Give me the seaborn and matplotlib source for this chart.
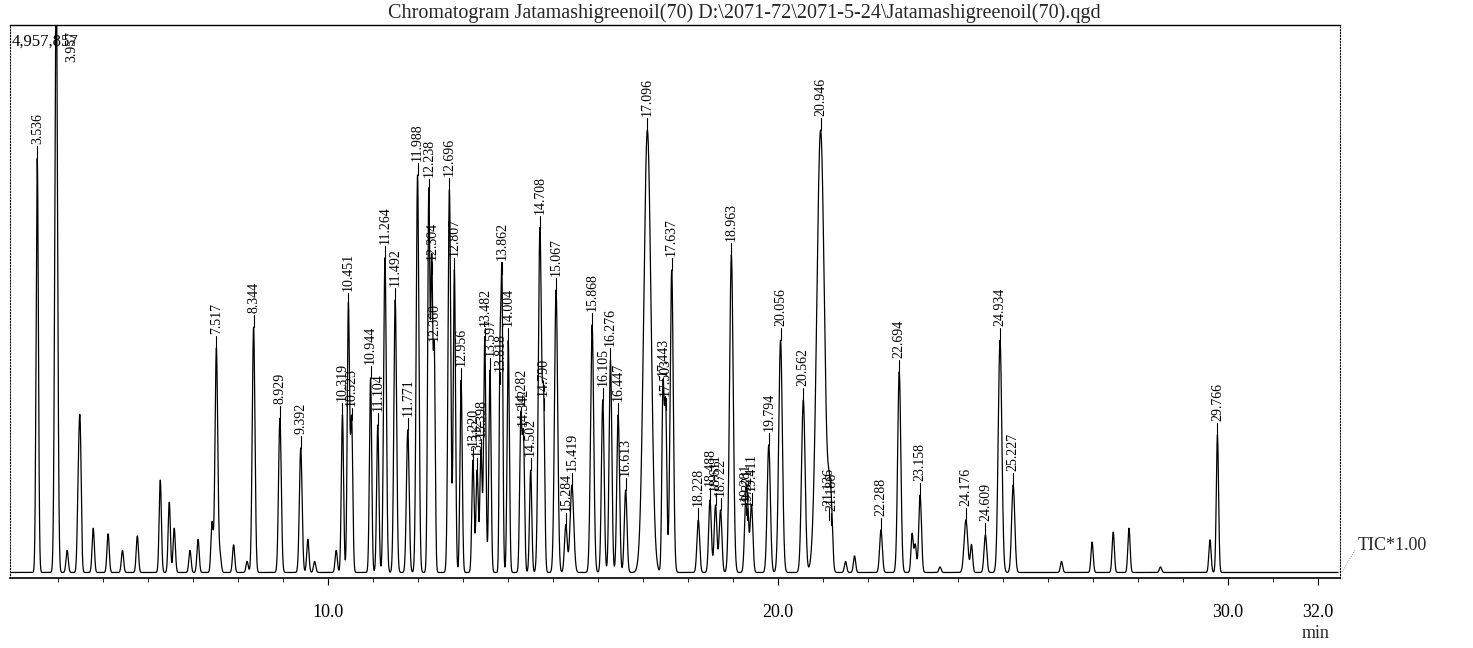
import numpy as np
import pandas as pd
import matplotlib
matplotlib.use("Agg")
import matplotlib.pyplot as plt
import seaborn as sns

# ---- data (retention time [min], peak top [% of 4,957,857]) ----
peak_labels = ["3.536", "3.957", "7.517", "8.344", "8.929", "9.392", "10.319", "10.451",
               "10.523", "10.944", "11.104", "11.264", "11.492", "11.771", "11.988", "12.238",
               "12.304", "12.360", "12.696", "12.807", "12.956", "13.220", "13.312", "13.398",
               "13.482", "13.597", "13.818", "13.862", "14.004", "14.282", "14.342", "14.502",
               "14.708", "14.790", "15.067", "15.284", "15.419", "15.868", "16.105", "16.276",
               "16.447", "16.613", "17.096", "17.443", "17.503", "17.637", "18.228", "18.488",
               "18.611", "18.722", "18.963", "19.281", "19.321", "19.411", "19.794", "20.056",
               "20.562", "20.946", "21.136", "21.186", "22.288", "22.694", "23.158", "24.176",
               "24.609", "24.934", "25.227", "29.766"]
peak_heights = [75.9, 110.0, 41.6, 45.4, 28.9, 23.5, 29.5, 49.4,
                28.6, 36.2, 27.7, 57.9, 50.3, 26.8, 72.9, 70.0,
                55.0, 40.3, 70.2, 55.7, 35.8, 21.3, 19.5, 23.0,
                43.0, 37.6, 35.0, 55.0, 43.0, 28.6, 25.0, 19.5,
                63.3, 30.4, 52.1, 9.6, 16.8, 45.8, 32.2, 39.4,
                29.5, 15.9, 81.0, 34.0, 30.4, 55.7, 10.5, 14.1,
                13.2, 12.3, 58.4, 11.4, 10.5, 13.2, 24.1, 43.0,
                32.2, 81.0, 10.5, 9.6, 8.7, 37.3, 15.0, 10.5,
                7.8, 43.0, 16.8, 25.9]
peak_widths = [0.025, 0.03, 0.03, 0.03, 0.03, 0.03, 0.025, 0.025,
               0.025, 0.025, 0.025, 0.03, 0.03, 0.03, 0.03, 0.025,
               0.022, 0.022, 0.03, 0.025, 0.025, 0.025, 0.025, 0.025,
               0.025, 0.025, 0.018, 0.022, 0.025, 0.025, 0.025, 0.025,
               0.035, 0.025, 0.035, 0.03, 0.04, 0.035, 0.03, 0.03,
               0.03, 0.03, 0.08, 0.025, 0.025, 0.035, 0.03, 0.03,
               0.03, 0.03, 0.04, 0.03, 0.03, 0.03, 0.035, 0.04,
               0.04, 0.085, 0.035, 0.03, 0.03, 0.035, 0.03, 0.04,
               0.03, 0.04, 0.035, 0.025]

# small unlabeled peaks
minor_times = [4.45, 4.49, 4.78, 4.20, 5.11, 5.43, 5.76, 6.27, 6.47, 6.58, 6.93, 7.11,
               7.42, 7.60, 7.90, 8.20, 9.55, 9.70, 10.18, 21.50, 21.70, 22.98, 23.05,
               23.60, 24.30, 26.30, 26.98, 27.45, 27.80, 28.50, 29.60]
minor_heights = [15.0, 24.6, 9.0, 5.0, 8.0, 5.0, 7.6, 17.7, 13.7, 9.0, 5.0, 7.0,
                 10.0, 4.0, 6.0, 3.0, 7.0, 3.0, 5.0, 3.0, 4.0, 8.0, 6.0,
                 2.0, 6.0, 3.0, 6.5, 8.3, 9.0, 2.0, 6.9]

x_tick_values = [10.0, 20.0, 30.0, 32.0]
x_tick_labels = ["10.0", "20.0", "30.0", "32.0"]
title = "Chromatogram Jatamashigreenoil(70) D:\\2071-72\\2071-5-24\\Jatamashigreenoil(70).qgd"
y_max_label = "4,957,857"

# ---- build the trace from the peak table ----
baseline = 1.0
t = np.linspace(2.93, 32.45, 14000)
signal = np.full_like(t, baseline)
for lab, h, w in zip(peak_labels, peak_heights, peak_widths):
    rt = float(lab)
    signal += (h - baseline) * np.exp(-0.5 * ((t - rt) / w) ** 2)
for rt, h in zip(minor_times, minor_heights):
    signal += (h - baseline) * np.exp(-0.5 * ((t - rt) / 0.025) ** 2)
trace = pd.DataFrame({"min": t, "TIC": signal})

# ---- figure ----
sns.set_theme(style="white")
plt.rcParams["font.family"] = ["Liberation Serif", "DejaVu Serif"]

fig = plt.figure(figsize=(14.73, 6.48), dpi=100)
ax = fig.add_axes([10 / 1473, 1 - 578 / 648, 1330 / 1473, 553 / 648])

sns.lineplot(data=trace, x="min", y="TIC", ax=ax, color="black", linewidth=0.9)

ax.set_xlim(2.93, 32.49)
ax.set_ylim(0, 100)

# peak labels with leader lines
for lab, h in zip(peak_labels, peak_heights):
    rt = float(lab)
    if h > 100:
        ax.text(rt + 0.35, 99.0, lab, rotation=90, ha="center", va="top",
                fontsize=10, color="black")
        continue
    gap = 2.2
    ax.plot([rt, rt], [h, h + gap], color="black", linewidth=0.8)
    ax.text(rt, h + gap + 0.3, lab, rotation=90, ha="center", va="bottom",
            fontsize=10, color="black")

ax.text(0.001, 0.985, y_max_label, transform=ax.transAxes, ha="left", va="top",
        fontsize=12, color="black")

# axes styling
for side in ["left", "right"]:
    ax.spines[side].set_linestyle(":")
    ax.spines[side].set_linewidth(0.8)
    ax.spines[side].set_color("black")
ax.spines["top"].set_linewidth(1.0)
ax.spines["top"].set_color("black")
ax.spines["bottom"].set_linewidth(1.2)
ax.spines["bottom"].set_color("black")

ax.set_xticks(x_tick_values)
ax.set_xticklabels(x_tick_labels, fontsize=13)
ax.set_xticks(np.arange(4, 33, 1), minor=True)
ax.tick_params(axis="x", which="major", direction="out", length=5, width=0.8,
               colors="black", bottom=True, pad=14)
ax.tick_params(axis="x", which="minor", direction="out", length=3, width=0.6,
               colors="black", bottom=True)
ax.set_yticks([])
ax.set_xlabel("")
ax.set_ylabel("")

fig.text(744 / 1473, 1 - 13 / 648, title, ha="center", va="center", fontsize=14.5)
fig.text(1358 / 1473, 1 - 546 / 648, "TIC*1.00", ha="left", va="center", fontsize=13)
fig.text(1316 / 1473, 1 - 634 / 648, "min", ha="center", va="center", fontsize=13)
fig.add_artist(plt.Line2D([1342 / 1473, 1355 / 1473], [1 - 572 / 648, 1 - 550 / 648],
                          color="gray", linewidth=0.6, linestyle=":"))

fig.savefig("out.png", dpi=100, facecolor="white")
